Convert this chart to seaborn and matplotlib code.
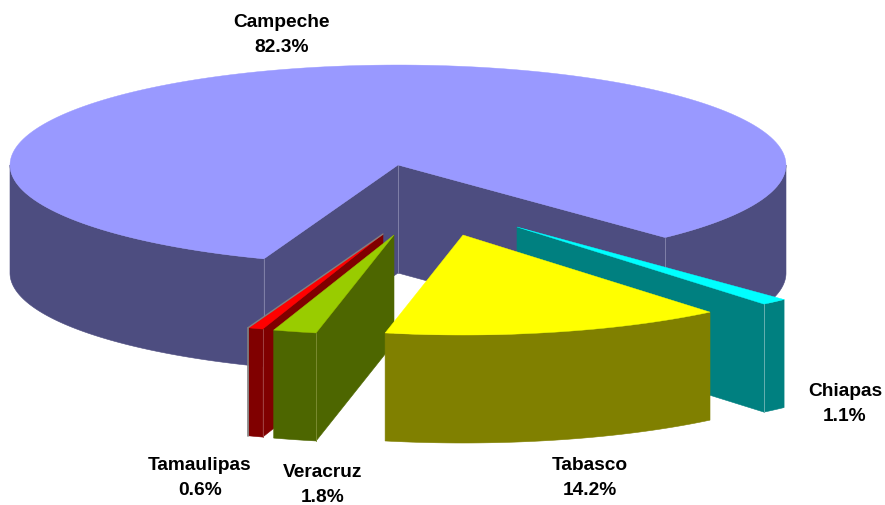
import numpy as np
import matplotlib
matplotlib.use('Agg')
import matplotlib.pyplot as plt
from matplotlib.patches import Polygon
import seaborn as sns

# data
states = ['Campeche', 'Chiapas', 'Tabasco', 'Veracruz', 'Tamaulipas']
shares = [82.3, 1.1, 14.2, 1.8, 0.6]

# colours per slice (top, side, thin edge line)
top_colors = ['#9999FF', '#00FFFF', '#FFFF00', '#99CC00', '#FF0000']
side_colors = ['#4D4D80', '#008080', '#808000', '#4D6600', '#800000']
edge_colors = ['#8080A8', '#66B0B0', '#A8A860', '#7A8A30', '#A04040']

# layout in pixels of the picture
cx, cy = 398, 165
rx, ry = 388, 100
depth = 108
start_angle = -46.5
explode = [(0, 0), (119, 62), (65, 70), (-4, 70), (-15, 69)]
label_pos = [(282, 35), (845, 404), (590, 478), (323, 485), (200, 478)]
draw_order = [0, 1, 4, 3, 2]  # tabasco sits in front of the thin slices

sns.set_theme(style='white')
plt.rcParams['font.family'] = ['Liberation Sans', 'DejaVu Sans']

fig, ax = plt.subplots(figsize=(8.85, 5.05), dpi=100)
ax.set_position([0, 0, 1, 1])
ax.set_xlim(0, 885)
ax.set_ylim(505, 0)
ax.axis('off')


def arc(a0, a1, x0, y0, drop=0, n=200):
    t = np.radians(np.linspace(a0, a1, n))
    return np.column_stack([x0 + rx * np.cos(t), y0 + ry * np.sin(-t) + drop])


def vline(ax, p, color, z, lw=0.7):
    ax.plot([p[0], p[0]], [p[1], p[1] + depth], color=color, lw=lw, zorder=z + 1)


def wall(ax, p0, p1, color, z):
    # flat side going down from the line p0-p1
    p0, p1 = np.array(p0), np.array(p1)
    d = np.array([0, depth])
    ax.add_patch(Polygon([p0, p1, p1 + d, p0 + d], fc=color, ec=color, lw=0.4, zorder=z))


def outer_wall(ax, a0, a1, x0, y0, color, z):
    upper = arc(a0, a1, x0, y0)
    lower = arc(a1, a0, x0, y0, depth)
    ax.add_patch(Polygon(np.vstack([upper, lower]), fc=color, ec=color, lw=0.4, zorder=z))


# angles of each slice, clockwise from the start angle
spans = [s / 100 * 360 for s in shares]
ends = [start_angle + spans[0]]
starts = [start_angle]
a = start_angle
for sp in spans[1:]:
    ends.append(a)
    starts.append(a - sp)
    a -= sp

for k, i in enumerate(draw_order):
    z = 10 * (k + 1)
    x0, y0 = cx + explode[i][0], cy + explode[i][1]
    a0, a1 = starts[i], ends[i]
    p0 = arc(a0, a0, x0, y0, n=1)[0]
    p1 = arc(a1, a1, x0, y0, n=1)[0]
    apex = (x0, y0)
    side = side_colors[i]
    edge = edge_colors[i]

    if i == 0:
        # big slice: the front is cut in two by the missing part
        outer_wall(ax, 180, a1, x0, y0, side, z)
        outer_wall(ax, a0, 0, x0, y0, side, z)
        wall(ax, apex, p0, side, z)
        wall(ax, apex, p1, side, z)
        vline(ax, apex, edge, z)
        vline(ax, p0, edge, z)
        vline(ax, p1, edge, z)
    elif i == 1:
        wall(ax, apex, p0, side, z)
        outer_wall(ax, a0, a1, x0, y0, side, z)
        vline(ax, p0, edge, z)
    elif i == 2:
        outer_wall(ax, a0, a1, x0, y0, side, z)
    else:
        outer_wall(ax, a0, a1, x0, y0, side, z)
        wall(ax, apex, p1, side, z)
        vline(ax, p1, edge, z)
        if i == 4:
            vline(ax, (p0[0] - 1, p0[1]), '#808080', z, lw=1.2)
            ax.plot([p0[0] - 1, x0], [p0[1], y0], color='#808080', lw=1.0, zorder=z + 3)

    top = np.vstack([[apex], arc(a0, a1, x0, y0)])
    ax.add_patch(Polygon(top, fc=top_colors[i], ec=top_colors[i], lw=0.3, zorder=z + 2))

for name, val, (lx, ly) in zip(states, shares, label_pos):
    ax.text(lx, ly, f'{name}\n{val:.1f}%', ha='center', va='center', zorder=100,
            fontsize=13.8, fontweight='bold', color='black', linespacing=1.56)

fig.savefig('out.png', dpi=100)
